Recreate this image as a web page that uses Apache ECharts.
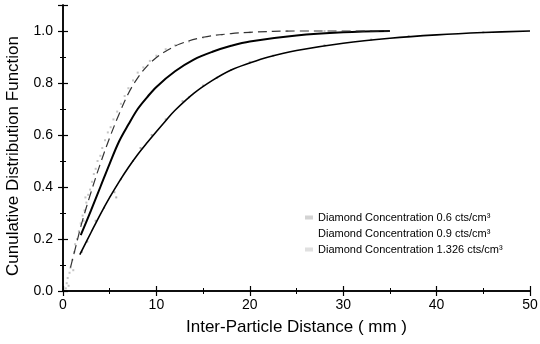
<!DOCTYPE html>
<html>
<head>
<meta charset="utf-8">
<script src="https://cdn.jsdelivr.net/npm/echarts@6/dist/echarts.min.js"></script>
<style>
  html, body { margin: 0; padding: 0; background: #fff; }
  #chart { width: 540px; height: 344px; }
</style>
</head>
<body>
<div id="chart"></div>
<script>
// Series names
const seriesNames = [
  'Diamond Concentration 0.6 cts/cm\u00B3',
  'Diamond Concentration 0.9 cts/cm\u00B3',
  'Diamond Concentration 1.326 cts/cm\u00B3'
];

// Fitted CDF curves: x (mm) and F(x)
const fitX1 = [1.8, 3, 4, 5, 6, 7, 8, 9, 10, 11, 12, 14, 16, 18, 20, 22, 25, 30, 35, 40, 45, 50];
const fitY1 = [0.14, 0.225, 0.295, 0.36, 0.42, 0.475, 0.525, 0.57, 0.613, 0.655, 0.695, 0.76, 0.81, 0.85, 0.877, 0.9, 0.925, 0.953, 0.972, 0.985, 0.994, 1.0];

const fitX2 = [1.9, 3, 4, 5, 6, 7, 8, 9, 10, 12, 14, 16, 18, 20, 25, 30, 35];
const fitY2 = [0.215, 0.31, 0.40, 0.49, 0.575, 0.64, 0.70, 0.745, 0.785, 0.845, 0.89, 0.92, 0.943, 0.96, 0.983, 0.995, 1.0];

const fitX3 = [0.8, 1.5, 2, 3, 4, 5, 6, 7, 8, 9, 10, 11, 12.5, 15, 18, 20, 25, 30, 35];
const fitY3 = [0.09, 0.19, 0.26, 0.38, 0.49, 0.59, 0.68, 0.76, 0.82, 0.865, 0.898, 0.922, 0.95, 0.976, 0.99, 0.995, 1.0, 1.0, 1.0];

// Measured points [x, F]
const pts1 = [
  [2.0, 0.15], [2.6, 0.19], [3.5, 0.27], [4.4, 0.32], [5.5, 0.38], [5.7, 0.36],
  [6.2, 0.43], [7.5, 0.50], [8.3, 0.55], [9.5, 0.60], [11.0, 0.66], [12.8, 0.73],
  [13.5, 0.745], [15.0, 0.79], [16.5, 0.82], [18.0, 0.85], [20.0, 0.88], [22.5, 0.905],
  [28.0, 0.945], [33.0, 0.967], [37.0, 0.98], [45.0, 0.995]
];
const pts2 = [
  [2.2, 0.24], [3.0, 0.30], [4.0, 0.40], [5.2, 0.51], [6.5, 0.63], [7.2, 0.67],
  [7.8, 0.71], [8.4, 0.74], [9.0, 0.765], [9.6, 0.785], [10.2, 0.80], [10.8, 0.82],
  [11.4, 0.84], [12.0, 0.86], [12.6, 0.87], [13.3, 0.88], [14.0, 0.895], [18.5, 0.96],
  [19.2, 0.965], [24.0, 0.97], [25.0, 0.975], [26.0, 0.985], [28.0, 0.99], [30.0, 0.99],
  [31.5, 0.99], [32.0, 0.995], [34.0, 0.995]
];
const pts3 = [
  [0.3, 0.01], [0.4, 0.03], [0.5, 0.05], [0.6, 0.02], [0.7, 0.07], [0.8, 0.09],
  [1.0, 0.12], [1.1, 0.08], [1.2, 0.15], [1.3, 0.18], [1.5, 0.20], [1.7, 0.23],
  [1.9, 0.26], [2.1, 0.29], [2.2, 0.27], [2.3, 0.31], [2.4, 0.36], [2.5, 0.34],
  [2.7, 0.37], [2.9, 0.39], [3.1, 0.42], [3.3, 0.45], [3.5, 0.47], [3.7, 0.50],
  [4.0, 0.52], [4.2, 0.55], [4.5, 0.58], [4.8, 0.61], [5.1, 0.63], [5.4, 0.66],
  [5.8, 0.69], [6.2, 0.72], [6.6, 0.75], [7.0, 0.78], [7.5, 0.81], [8.0, 0.84],
  [8.6, 0.86], [9.3, 0.885], [10.0, 0.905], [11.0, 0.93], [12.0, 0.945], [13.5, 0.96],
  [15.0, 0.975], [17.0, 0.985], [20.0, 0.995], [24.0, 1.0], [28.0, 1.0], [33.0, 1.0]
];

// Axis settings
const xMin = 0, xMax = 50, xStep = 10;
const yMin = 0, yMax = 1.1, yStep = 0.2;

const zip = (xs, ys) => xs.map((x, i) => [x, ys[i]]);

const font = 'Liberation Sans, Arial, sans-serif';
const frame = { show: true, lineStyle: { color: '#000', width: 1.5 } };
const inTick = { show: true, inside: true, length: 5, lineStyle: { color: '#000', width: 1.2 } };
const inMinor = { show: true, splitNumber: 2, length: 3, lineStyle: { color: '#000', width: 1 } };

const chart = echarts.init(document.getElementById('chart'), null, { renderer: 'canvas' });

chart.setOption({
  animation: false,
  backgroundColor: '#fff',
  grid: { left: 63, right: 10, top: 5, bottom: 53, containLabel: false, outerBoundsMode: 'none' },
  legend: {
    orient: 'vertical',
    left: 300,
    top: 207,
    itemWidth: 8,
    itemHeight: 4,
    itemGap: 5,
    textStyle: { fontFamily: font, fontSize: 11, color: '#000' },
    data: [
      { name: seriesNames[0], icon: 'rect', itemStyle: { color: '#c8c8c8' } },
      { name: seriesNames[1], icon: 'emptyCircle', itemStyle: { color: '#fff', borderColor: '#999', borderWidth: 1 } },
      { name: seriesNames[2], icon: 'rect', itemStyle: { color: '#d8d8d8' } }
    ]
  },
  xAxis: [
    {
      type: 'value', min: xMin, max: xMax, interval: xStep,
      position: 'bottom',
      name: 'Inter-Particle Distance ( mm )',
      nameLocation: 'middle', nameGap: 28,
      nameTextStyle: { fontFamily: font, fontSize: 17, color: '#000' },
      axisLine: frame, axisTick: inTick, minorTick: inMinor,
      axisLabel: { fontFamily: font, fontSize: 14, color: '#000', margin: 7 },
      splitLine: { show: false }
    },
    {
      type: 'value', min: xMin, max: xMax, interval: xStep,
      position: 'top',
      axisLine: frame, axisTick: inTick, minorTick: inMinor,
      axisLabel: { show: false }, splitLine: { show: false }
    }
  ],
  yAxis: [
    {
      type: 'value', min: yMin, max: yMax, interval: yStep,
      position: 'left',
      name: 'Cunulative Distribution Function',
      nameLocation: 'middle', nameGap: 41,
      nameTextStyle: { fontFamily: font, fontSize: 17, color: '#000', padding: [0, 16, 0, 0] },
      axisLine: frame, axisTick: inTick, minorTick: inMinor,
      axisLabel: {
        fontFamily: font, fontSize: 14, color: '#000', margin: 10,
        showMaxLabel: false,
        formatter: v => v.toFixed(1)
      },
      splitLine: { show: false }
    },
    {
      type: 'value', min: yMin, max: yMax, interval: yStep,
      position: 'right',
      axisLine: frame, axisTick: inTick, minorTick: inMinor,
      axisLabel: { show: false }, splitLine: { show: false }
    }
  ],
  series: [
    {
      name: seriesNames[0], type: 'scatter', data: pts1,
      symbol: 'rect', symbolSize: 2,
      itemStyle: { color: '#9a9a9a' }, z: 2
    },
    {
      name: seriesNames[1], type: 'scatter', data: pts2,
      symbol: 'emptyCircle', symbolSize: 3,
      itemStyle: { color: '#fff', borderColor: '#777', borderWidth: 0.8 }, z: 2
    },
    {
      name: seriesNames[2], type: 'scatter', data: pts3,
      symbol: 'rect', symbolSize: 2,
      itemStyle: { color: '#b5b5b5' }, z: 2
    },
    {
      name: 'fit1', type: 'line', data: zip(fitX1, fitY1), smooth: 0.35,
      showSymbol: false, lineStyle: { color: '#000', width: 1.6 }, z: 3
    },
    {
      name: 'fit2', type: 'line', data: zip(fitX2, fitY2), smooth: 0.35,
      showSymbol: false, lineStyle: { color: '#000', width: 2 }, z: 3
    },
    {
      name: 'fit3', type: 'line', data: zip(fitX3, fitY3), smooth: 0.35,
      showSymbol: false, lineStyle: { color: '#333', width: 1.2, type: [9, 5] }, z: 3
    }
  ]
});
</script>
</body>
</html>
